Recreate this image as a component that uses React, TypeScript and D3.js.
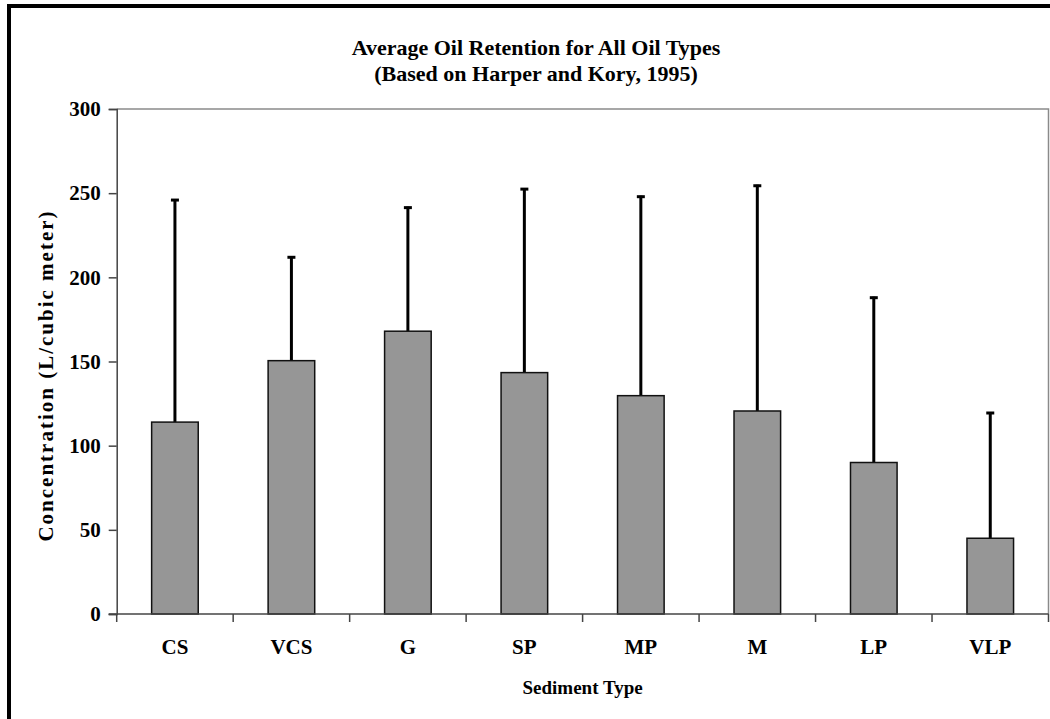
import React, { useEffect, useRef } from 'react';
import * as d3 from 'd3';

// Sediment types and values
const categories = ['CS', 'VCS', 'G', 'SP', 'MP', 'M', 'LP', 'VLP'];
const means = [114, 150.5, 168, 143.4, 129.7, 120.6, 90, 45];
const upperErrors = [246.5, 212.5, 242, 253, 248.5, 255, 188.5, 120];
const yTicks = [0, 50, 100, 150, 200, 250, 300];
const titleLines = ['Average Oil Retention for All Oil Types', '(Based on Harper and Kory, 1995)'];

const App = () => {
  const chartRef = useRef<SVGSVGElement>(null);

  useEffect(() => {
    const width = 1050;
    const height = 719;
    const plot = { left: 116.7, right: 1048.5, top: 109, bottom: 614 };
    const font = '"Liberation Serif", "Times New Roman", serif';

    const svg = d3.select(chartRef.current);
    svg.selectAll('*').remove();
    svg.attr('width', width).attr('height', height);

    svg.append('rect')
      .attr('width', width).attr('height', height).attr('fill', '#fff');

    // outer frame (clipped on right and bottom)
    svg.append('rect')
      .attr('x', 9).attr('y', 6)
      .attr('width', 1200).attr('height', 900)
      .attr('fill', 'none').attr('stroke', '#000').attr('stroke-width', 4);

    const x = d3.scaleBand()
      .domain(categories)
      .range([plot.left, plot.right])
      .paddingInner(0.6)
      .paddingOuter(0.3);

    const y = d3.scaleLinear()
      .domain([0, 300])
      .range([plot.bottom, plot.top]);

    // plot area border (top + right)
    svg.append('path')
      .attr('d', `M${plot.left},${plot.top}H${plot.right}V${plot.bottom}`)
      .attr('fill', 'none').attr('stroke', '#8a8a8a').attr('stroke-width', 1.5);

    // error bars (upper only)
    const err = svg.append('g');
    categories.forEach((c, i) => {
      const cx = x(c)! + x.bandwidth() / 2;
      err.append('line')
        .attr('x1', cx).attr('x2', cx)
        .attr('y1', y(means[i])).attr('y2', y(upperErrors[i]))
        .attr('stroke', '#000').attr('stroke-width', 3);
      err.append('line')
        .attr('x1', cx - 4).attr('x2', cx + 4)
        .attr('y1', y(upperErrors[i]) + 1).attr('y2', y(upperErrors[i]) + 1)
        .attr('stroke', '#000').attr('stroke-width', 3);
    });

    // bars
    svg.append('g')
      .selectAll('rect')
      .data(means)
      .join('rect')
      .attr('x', (_, i) => x(categories[i])!)
      .attr('y', d => y(d))
      .attr('width', x.bandwidth())
      .attr('height', d => y(0) - y(d))
      .attr('fill', '#969696')
      .attr('stroke', '#111')
      .attr('stroke-width', 1.5);

    // y axis
    const yAxis = svg.append('g')
      .attr('transform', `translate(${plot.left},0)`)
      .call(d3.axisLeft(y).tickValues(yTicks).tickSize(8).tickPadding(8));
    yAxis.select('.domain').attr('stroke', '#444').attr('stroke-width', 1.5);
    yAxis.selectAll('.tick line').attr('stroke', '#444').attr('stroke-width', 1.5);
    yAxis.selectAll('.tick text')
      .attr('font-family', font).attr('font-weight', 'bold')
      .attr('font-size', 21).attr('fill', '#000');

    // x axis: baseline with ticks between categories
    const xAxis = svg.append('g');
    xAxis.append('line')
      .attr('x1', plot.left - 8).attr('x2', plot.right)
      .attr('y1', plot.bottom).attr('y2', plot.bottom)
      .attr('stroke', '#444').attr('stroke-width', 1.5);
    const boundaries = categories.map(c => x(c)! - x.step() * 0.3).concat([plot.right]);
    xAxis.selectAll('line.tk')
      .data(boundaries)
      .join('line')
      .attr('class', 'tk')
      .attr('x1', d => d).attr('x2', d => d)
      .attr('y1', plot.bottom).attr('y2', plot.bottom + 8)
      .attr('stroke', '#444').attr('stroke-width', 1.5);
    xAxis.selectAll('text')
      .data(categories)
      .join('text')
      .attr('x', d => x(d)! + x.bandwidth() / 2)
      .attr('y', 654)
      .attr('text-anchor', 'middle')
      .attr('font-family', font).attr('font-weight', 'bold')
      .attr('font-size', 21)
      .text(d => d);

    // axis titles
    svg.append('text')
      .attr('x', (plot.left + plot.right) / 2)
      .attr('y', 694)
      .attr('text-anchor', 'middle')
      .attr('font-family', font).attr('font-weight', 'bold')
      .attr('font-size', 19)
      .text('Sediment Type');

    svg.append('text')
      .attr('transform', `translate(53,${(plot.top + plot.bottom) / 2 + 14}) rotate(-90)`)
      .attr('text-anchor', 'middle')
      .attr('font-family', font).attr('font-weight', 'bold')
      .attr('font-size', 21)
      .attr('letter-spacing', 2)
      .text('Concentration (L/cubic meter)');

    // title
    svg.append('g')
      .selectAll('text')
      .data(titleLines)
      .join('text')
      .attr('x', 536)
      .attr('y', (_, i) => 55 + i * 26)
      .attr('text-anchor', 'middle')
      .attr('font-family', font).attr('font-weight', 'bold')
      .attr('font-size', 22)
      .text(d => d);
  }, []);

  return (
    <div style={{ position: 'absolute', left: 0, top: 0 }}>
      <svg ref={chartRef} style={{ display: 'block' }}></svg>
    </div>
  );
};

export default App;
